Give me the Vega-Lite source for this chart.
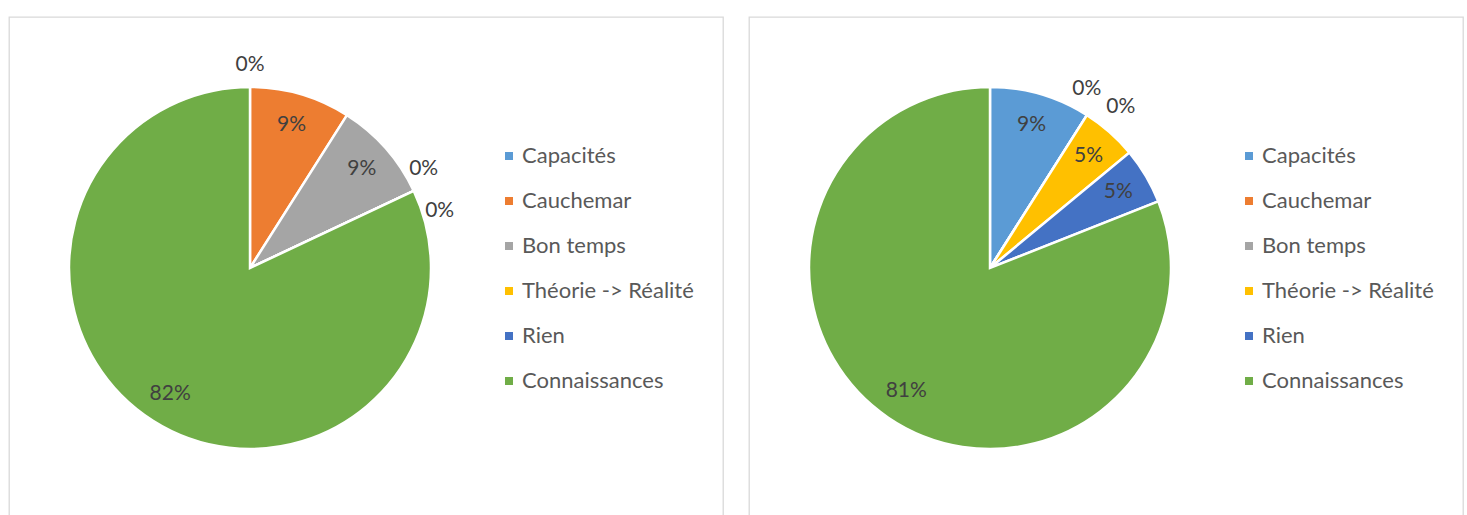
{
  "$schema": "https://vega.github.io/schema/vega-lite/v6.json",
  "padding": {"left": 8, "top": 16, "right": 0, "bottom": 0},
  "autosize": {"type": "pad"},
  "background": "white",
  "config": {
    "view": {"stroke": "#d9d9d9", "strokeWidth": 1.3},
    "font": "Lato",
    "concat": {"spacing": 24},
    "legend": {
      "orient": "none",
      "legendX": 489,
      "legendY": 128,
      "padding": 0,
      "symbolType": "square",
      "symbolSize": 64,
      "symbolStrokeWidth": 0,
      "labelFont": "Lato",
      "labelFontSize": 22,
      "labelColor": "#595959",
      "labelOffset": 2,
      "labelLimit": 400,
      "rowPadding": 23,
      "title": null
    }
  },
  "datasets": {
    "left": [
      {"category": "Capacités", "pct": 0},
      {"category": "Cauchemar", "pct": 0.09},
      {"category": "Bon temps", "pct": 0.09},
      {"category": "Théorie -> Réalité", "pct": 0},
      {"category": "Rien", "pct": 0},
      {"category": "Connaissances", "pct": 0.82}
    ],
    "right": [
      {"category": "Capacités", "pct": 0.09},
      {"category": "Cauchemar", "pct": 0},
      {"category": "Bon temps", "pct": 0},
      {"category": "Théorie -> Réalité", "pct": 0.05},
      {"category": "Rien", "pct": 0.05},
      {"category": "Connaissances", "pct": 0.81}
    ]
  },
  "resolve": {"scale": {"color": "independent"}, "legend": {"color": "independent"}},
  "hconcat": [
    {
      "width": 714,
      "height": 502,
      "view": {"stroke": "#d9d9d9", "strokeWidth": 1.3},
      "data": {"name": "left"},
      "transform": [{"window": [{"op": "row_number", "as": "k"}]}],
      "encoding": {
        "theta": {"field": "pct", "type": "quantitative", "stack": true},
        "order": {"field": "k", "type": "quantitative"}
      },
      "layer": [
        {
          "mark": {"type": "arc", "x": 241, "outerRadius": 181, "stroke": "white", "strokeWidth": 2.5},
          "encoding": {
            "color": {
              "field": "category",
              "type": "nominal",
              "sort": null,
              "scale": {
                "domain": ["Capacités", "Cauchemar", "Bon temps", "Théorie -> Réalité", "Rien", "Connaissances"],
                "range": ["#5B9BD5", "#ED7D31", "#A5A5A5", "#FFC000", "#4472C4", "#70AD47"]
              }
            }
          }
        },
        {
          "mark": {"type": "text", "x": 241, "radius": 149, "fontSize": 21, "color": "#404040", "align": "center", "baseline": "middle"},
          "encoding": {"text": {"condition": {"test": "datum.pct > 0", "field": "pct", "type": "quantitative", "format": ".0%"}, "value": ""}}
        },
        {
          "mark": {"type": "text", "x": 241, "radius": 203, "fontSize": 21, "color": "#404040", "align": "center", "baseline": "middle"},
          "encoding": {"text": {"condition": {"test": "datum.category == 'Capacités'", "field": "pct", "type": "quantitative", "format": ".0%"}, "value": ""}}
        },
        {
          "mark": {"type": "text", "x": 241, "radius": 203, "dx": -10, "dy": -13, "fontSize": 21, "color": "#404040", "align": "center", "baseline": "middle"},
          "encoding": {"text": {"condition": {"test": "datum.category == 'Théorie -> Réalité'", "field": "pct", "type": "quantitative", "format": ".0%"}, "value": ""}}
        },
        {
          "mark": {"type": "text", "x": 241, "radius": 203, "dx": 6, "dy": 29, "fontSize": 21, "color": "#404040", "align": "center", "baseline": "middle"},
          "encoding": {"text": {"condition": {"test": "datum.category == 'Rien'", "field": "pct", "type": "quantitative", "format": ".0%"}, "value": ""}}
        }
      ]
    },
    {
      "width": 714,
      "height": 502,
      "view": {"stroke": "#d9d9d9", "strokeWidth": 1.3},
      "data": {"name": "right"},
      "transform": [{"window": [{"op": "row_number", "as": "k"}]}],
      "encoding": {
        "theta": {"field": "pct", "type": "quantitative", "stack": true},
        "order": {"field": "k", "type": "quantitative"}
      },
      "layer": [
        {
          "mark": {"type": "arc", "x": 241, "outerRadius": 181, "stroke": "white", "strokeWidth": 2.5},
          "encoding": {
            "color": {
              "field": "category",
              "type": "nominal",
              "sort": null,
              "scale": {
                "domain": ["Capacités", "Cauchemar", "Bon temps", "Théorie -> Réalité", "Rien", "Connaissances"],
                "range": ["#5B9BD5", "#ED7D31", "#A5A5A5", "#FFC000", "#4472C4", "#70AD47"]
              }
            }
          }
        },
        {
          "mark": {"type": "text", "x": 241, "radius": 149, "fontSize": 21, "color": "#404040", "align": "center", "baseline": "middle"},
          "encoding": {"text": {"condition": {"test": "datum.pct > 0", "field": "pct", "type": "quantitative", "format": ".0%"}, "value": ""}}
        },
        {
          "mark": {"type": "text", "x": 241, "radius": 203, "dx": -12, "dy": -8, "fontSize": 21, "color": "#404040", "align": "center", "baseline": "middle"},
          "encoding": {"text": {"condition": {"test": "datum.category == 'Cauchemar'", "field": "pct", "type": "quantitative", "format": ".0%"}, "value": ""}}
        },
        {
          "mark": {"type": "text", "x": 241, "radius": 203, "dx": 22, "dy": 10, "fontSize": 21, "color": "#404040", "align": "center", "baseline": "middle"},
          "encoding": {"text": {"condition": {"test": "datum.category == 'Bon temps'", "field": "pct", "type": "quantitative", "format": ".0%"}, "value": ""}}
        }
      ]
    }
  ]
}
